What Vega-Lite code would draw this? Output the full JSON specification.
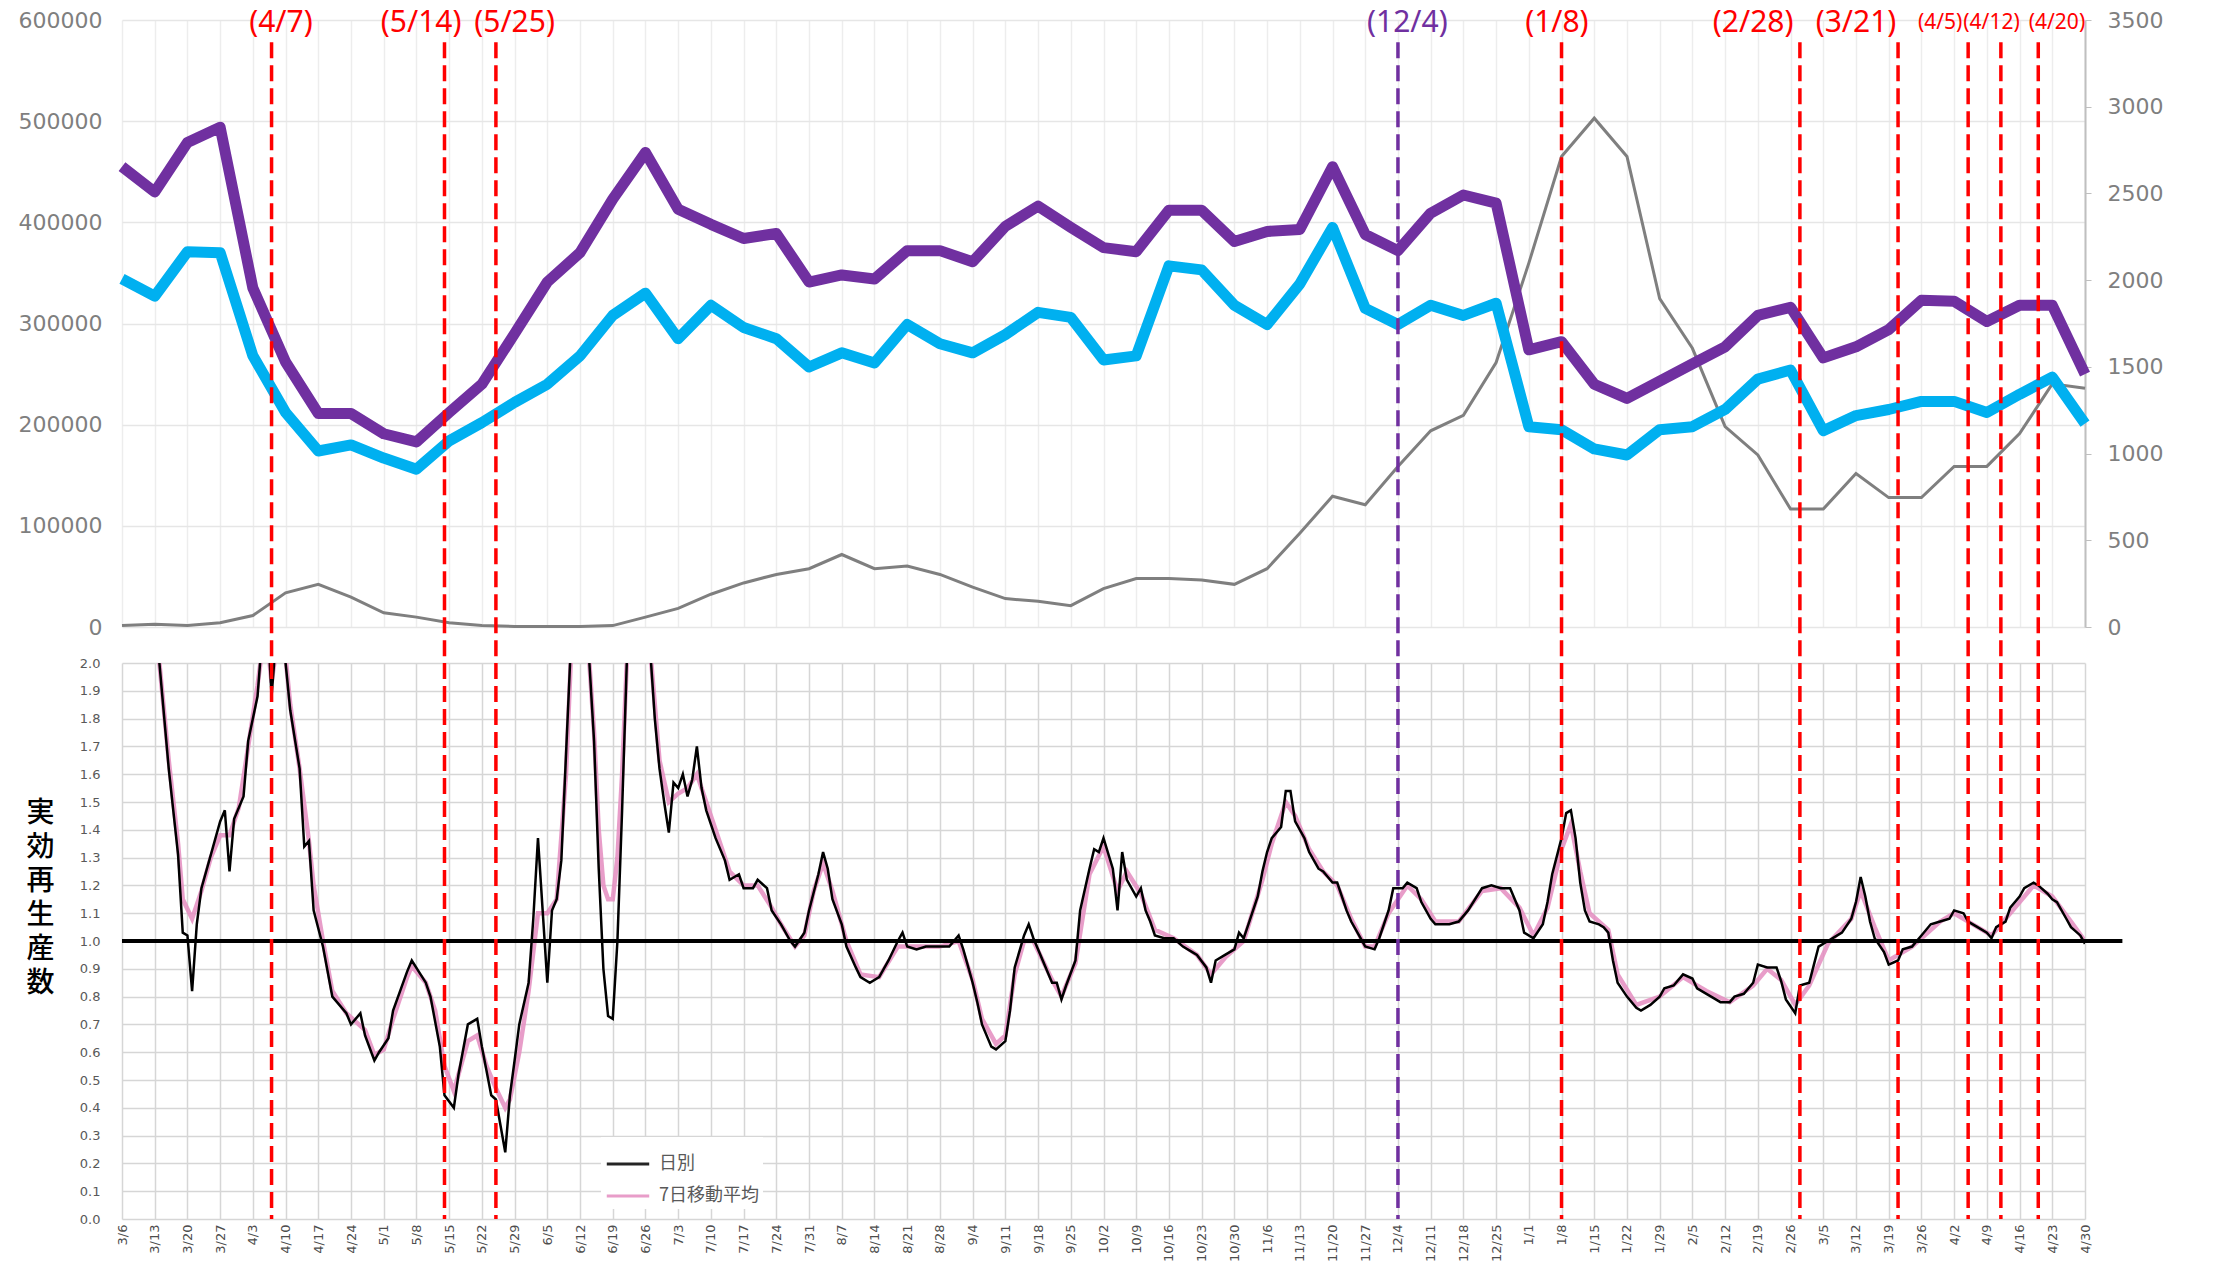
{
"$schema": "https://vega.github.io/schema/vega-lite/v6.json",
"background": "white",
"padding": {"left": 18, "top": 8, "right": 0, "bottom": 0},
"spacing": 36,
"bounds": "flush",
"config": {"view": {"stroke": null}, "axis": {"labelFont": "DejaVu Sans"}, "legend": {"labelFont": "Noto Sans CJK JP"}},
"resolve": {"scale": {"color": "independent", "stroke": "independent"}, "legend": {"color": "independent", "stroke": "independent"}},
"datasets": {
"weekly": [
{"date":"2020-03-06","flowA":455000,"flowB":344000,"cases":8},
{"date":"2020-03-13","flowA":430000,"flowB":327000,"cases":16},
{"date":"2020-03-20","flowA":479000,"flowB":371000,"cases":8},
{"date":"2020-03-27","flowA":494000,"flowB":370000,"cases":25},
{"date":"2020-04-03","flowA":335000,"flowB":268000,"cases":66},
{"date":"2020-04-10","flowA":262000,"flowB":212000,"cases":197},
{"date":"2020-04-17","flowA":211000,"flowB":174000,"cases":246},
{"date":"2020-04-24","flowA":211000,"flowB":180000,"cases":172},
{"date":"2020-05-01","flowA":191000,"flowB":167000,"cases":82},
{"date":"2020-05-08","flowA":183000,"flowB":156000,"cases":57},
{"date":"2020-05-15","flowA":212000,"flowB":184000,"cases":25},
{"date":"2020-05-22","flowA":240000,"flowB":202000,"cases":8},
{"date":"2020-05-29","flowA":290000,"flowB":222000,"cases":3},
{"date":"2020-06-05","flowA":341000,"flowB":240000,"cases":3},
{"date":"2020-06-12","flowA":370000,"flowB":268000,"cases":3},
{"date":"2020-06-19","flowA":423000,"flowB":308000,"cases":8},
{"date":"2020-06-26","flowA":469000,"flowB":330000,"cases":57},
{"date":"2020-07-03","flowA":413000,"flowB":285000,"cases":107},
{"date":"2020-07-10","flowA":398000,"flowB":318000,"cases":189},
{"date":"2020-07-17","flowA":384000,"flowB":296000,"cases":254},
{"date":"2020-07-24","flowA":389000,"flowB":285000,"cases":303},
{"date":"2020-07-31","flowA":341000,"flowB":257000,"cases":336},
{"date":"2020-08-07","flowA":348000,"flowB":271000,"cases":418},
{"date":"2020-08-14","flowA":344000,"flowB":261000,"cases":336},
{"date":"2020-08-21","flowA":372000,"flowB":299000,"cases":352},
{"date":"2020-08-28","flowA":372000,"flowB":280000,"cases":303},
{"date":"2020-09-04","flowA":361000,"flowB":271000,"cases":230},
{"date":"2020-09-11","flowA":396000,"flowB":289000,"cases":164},
{"date":"2020-09-18","flowA":416000,"flowB":311000,"cases":148},
{"date":"2020-09-25","flowA":395000,"flowB":306000,"cases":123},
{"date":"2020-10-02","flowA":375000,"flowB":264000,"cases":221},
{"date":"2020-10-09","flowA":371000,"flowB":268000,"cases":279},
{"date":"2020-10-16","flowA":412000,"flowB":357000,"cases":279},
{"date":"2020-10-23","flowA":412000,"flowB":353000,"cases":271},
{"date":"2020-10-30","flowA":381000,"flowB":318000,"cases":246},
{"date":"2020-11-06","flowA":391000,"flowB":299000,"cases":336},
{"date":"2020-11-13","flowA":393000,"flowB":339000,"cases":541},
{"date":"2020-11-20","flowA":455000,"flowB":395000,"cases":754},
{"date":"2020-11-27","flowA":388000,"flowB":315000,"cases":705},
{"date":"2020-12-04","flowA":372000,"flowB":299000,"cases":926},
{"date":"2020-12-11","flowA":409000,"flowB":318000,"cases":1131},
{"date":"2020-12-18","flowA":427000,"flowB":308000,"cases":1221},
{"date":"2020-12-25","flowA":419000,"flowB":320000,"cases":1525},
{"date":"2021-01-01","flowA":274000,"flowB":198000,"cases":2098},
{"date":"2021-01-08","flowA":282000,"flowB":195000,"cases":2713},
{"date":"2021-01-15","flowA":240000,"flowB":176000,"cases":2934},
{"date":"2021-01-22","flowA":226000,"flowB":170000,"cases":2713},
{"date":"2021-01-29","flowA":243000,"flowB":195000,"cases":1894},
{"date":"2021-02-05","flowA":260000,"flowB":198000,"cases":1607},
{"date":"2021-02-12","flowA":277000,"flowB":215000,"cases":1156},
{"date":"2021-02-19","flowA":308000,"flowB":245000,"cases":992},
{"date":"2021-02-26","flowA":316000,"flowB":254000,"cases":680},
{"date":"2021-03-05","flowA":266000,"flowB":194000,"cases":680},
{"date":"2021-03-12","flowA":277000,"flowB":209000,"cases":885},
{"date":"2021-03-19","flowA":294000,"flowB":215000,"cases":746},
{"date":"2021-03-26","flowA":323000,"flowB":223000,"cases":746},
{"date":"2021-04-02","flowA":322000,"flowB":223000,"cases":926},
{"date":"2021-04-09","flowA":302000,"flowB":212000,"cases":926},
{"date":"2021-04-16","flowA":318000,"flowB":230000,"cases":1115},
{"date":"2021-04-23","flowA":318000,"flowB":247000,"cases":1402},
{"date":"2021-04-30","flowA":250000,"flowB":201000,"cases":1377}
],
"events": [
{"date":"2020-04-07","kind":"A"},
{"date":"2020-05-14","kind":"A"},
{"date":"2020-05-25","kind":"A"},
{"date":"2020-12-04","kind":"B"},
{"date":"2021-01-08","kind":"A"},
{"date":"2021-02-28","kind":"A"},
{"date":"2021-03-21","kind":"A"},
{"date":"2021-04-05","kind":"A"},
{"date":"2021-04-12","kind":"A"},
{"date":"2021-04-20","kind":"A"}
],
"daily": [
{"date":"2020-03-12","R":2.4},{"date":"2020-03-13","R":2.2},{"date":"2020-03-14","R":2.0},{"date":"2020-03-16","R":1.62},{"date":"2020-03-18","R":1.31},{"date":"2020-03-19","R":1.03},{"date":"2020-03-20","R":1.02},{"date":"2020-03-21","R":0.82},{"date":"2020-03-22","R":1.06},{"date":"2020-03-23","R":1.19},{"date":"2020-03-25","R":1.31},{"date":"2020-03-27","R":1.43},{"date":"2020-03-28","R":1.47},{"date":"2020-03-29","R":1.25},{"date":"2020-03-30","R":1.44},
{"date":"2020-04-01","R":1.52},{"date":"2020-04-02","R":1.72},{"date":"2020-04-04","R":1.88},{"date":"2020-04-05","R":2.1},{"date":"2020-04-06","R":2.2},{"date":"2020-04-07","R":1.88},{"date":"2020-04-08","R":2.1},{"date":"2020-04-09","R":2.05},{"date":"2020-04-10","R":2.0},{"date":"2020-04-11","R":1.83},{"date":"2020-04-13","R":1.62},{"date":"2020-04-14","R":1.34},{"date":"2020-04-15","R":1.36},{"date":"2020-04-16","R":1.11},{"date":"2020-04-18","R":0.98},{"date":"2020-04-20","R":0.8},{"date":"2020-04-23","R":0.74},{"date":"2020-04-24","R":0.7},{"date":"2020-04-26","R":0.74},{"date":"2020-04-27","R":0.66},{"date":"2020-04-29","R":0.57},{"date":"2020-04-30","R":0.6},
{"date":"2020-05-02","R":0.65},{"date":"2020-05-03","R":0.75},{"date":"2020-05-06","R":0.89},{"date":"2020-05-07","R":0.93},{"date":"2020-05-10","R":0.85},{"date":"2020-05-11","R":0.8},{"date":"2020-05-13","R":0.62},{"date":"2020-05-14","R":0.445},{"date":"2020-05-16","R":0.4},{"date":"2020-05-17","R":0.52},{"date":"2020-05-19","R":0.7},{"date":"2020-05-21","R":0.72},{"date":"2020-05-22","R":0.62},{"date":"2020-05-24","R":0.445},{"date":"2020-05-25","R":0.43},{"date":"2020-05-27","R":0.24},{"date":"2020-05-28","R":0.445},{"date":"2020-05-29","R":0.57},{"date":"2020-05-30","R":0.7},
{"date":"2020-06-01","R":0.85},{"date":"2020-06-02","R":1.08},{"date":"2020-06-03","R":1.37},{"date":"2020-06-04","R":1.11},{"date":"2020-06-05","R":0.85},{"date":"2020-06-06","R":1.11},{"date":"2020-06-07","R":1.15},{"date":"2020-06-08","R":1.29},{"date":"2020-06-09","R":1.67},{"date":"2020-06-10","R":2.05},{"date":"2020-06-11","R":2.5},{"date":"2020-06-12","R":2.7},{"date":"2020-06-13","R":2.4},{"date":"2020-06-14","R":2.0},{"date":"2020-06-15","R":1.72},{"date":"2020-06-16","R":1.26},{"date":"2020-06-17","R":0.9},{"date":"2020-06-18","R":0.73},{"date":"2020-06-19","R":0.72},{"date":"2020-06-20","R":1.0},{"date":"2020-06-21","R":1.47},{"date":"2020-06-22","R":2.0},{"date":"2020-06-23","R":2.6},{"date":"2020-06-24","R":3.0},{"date":"2020-06-25","R":2.9},{"date":"2020-06-26","R":2.5},{"date":"2020-06-27","R":2.05},{"date":"2020-06-28","R":1.8},{"date":"2020-06-29","R":1.62},{"date":"2020-06-30","R":1.5},
{"date":"2020-07-01","R":1.39},{"date":"2020-07-02","R":1.57},{"date":"2020-07-03","R":1.55},{"date":"2020-07-04","R":1.6},{"date":"2020-07-05","R":1.52},{"date":"2020-07-06","R":1.58},{"date":"2020-07-07","R":1.7},{"date":"2020-07-08","R":1.55},{"date":"2020-07-09","R":1.47},{"date":"2020-07-11","R":1.37},{"date":"2020-07-13","R":1.29},{"date":"2020-07-14","R":1.22},{"date":"2020-07-16","R":1.24},{"date":"2020-07-17","R":1.19},{"date":"2020-07-19","R":1.19},{"date":"2020-07-20","R":1.22},{"date":"2020-07-22","R":1.19},{"date":"2020-07-23","R":1.11},{"date":"2020-07-25","R":1.06},{"date":"2020-07-27","R":1.0},{"date":"2020-07-28","R":0.98},{"date":"2020-07-30","R":1.03},{"date":"2020-07-31","R":1.11},
{"date":"2020-08-02","R":1.24},{"date":"2020-08-03","R":1.32},{"date":"2020-08-04","R":1.26},{"date":"2020-08-05","R":1.15},{"date":"2020-08-07","R":1.06},{"date":"2020-08-08","R":0.98},{"date":"2020-08-10","R":0.905},{"date":"2020-08-11","R":0.87},{"date":"2020-08-13","R":0.85},{"date":"2020-08-15","R":0.87},{"date":"2020-08-17","R":0.93},{"date":"2020-08-19","R":1.0},{"date":"2020-08-20","R":1.03},{"date":"2020-08-21","R":0.98},{"date":"2020-08-23","R":0.97},{"date":"2020-08-25","R":0.98},{"date":"2020-08-28","R":0.98},{"date":"2020-08-30","R":0.98},
{"date":"2020-09-01","R":1.02},{"date":"2020-09-02","R":0.97},{"date":"2020-09-04","R":0.85},{"date":"2020-09-05","R":0.78},{"date":"2020-09-06","R":0.7},{"date":"2020-09-08","R":0.62},{"date":"2020-09-09","R":0.61},{"date":"2020-09-11","R":0.64},{"date":"2020-09-12","R":0.75},{"date":"2020-09-13","R":0.905},{"date":"2020-09-15","R":1.02},{"date":"2020-09-16","R":1.06},{"date":"2020-09-17","R":1.01},{"date":"2020-09-19","R":0.93},{"date":"2020-09-21","R":0.85},{"date":"2020-09-22","R":0.85},{"date":"2020-09-23","R":0.79},{"date":"2020-09-24","R":0.84},{"date":"2020-09-26","R":0.93},{"date":"2020-09-27","R":1.11},{"date":"2020-09-29","R":1.26},{"date":"2020-09-30","R":1.33},
{"date":"2020-10-01","R":1.32},{"date":"2020-10-02","R":1.37},{"date":"2020-10-04","R":1.26},{"date":"2020-10-05","R":1.11},{"date":"2020-10-06","R":1.32},{"date":"2020-10-07","R":1.22},{"date":"2020-10-09","R":1.16},{"date":"2020-10-10","R":1.19},{"date":"2020-10-11","R":1.11},{"date":"2020-10-12","R":1.07},{"date":"2020-10-13","R":1.02},{"date":"2020-10-15","R":1.01},{"date":"2020-10-17","R":1.01},{"date":"2020-10-19","R":0.98},{"date":"2020-10-21","R":0.96},{"date":"2020-10-22","R":0.95},{"date":"2020-10-24","R":0.905},{"date":"2020-10-25","R":0.85},{"date":"2020-10-26","R":0.93},{"date":"2020-10-28","R":0.95},{"date":"2020-10-30","R":0.97},{"date":"2020-10-31","R":1.03},
{"date":"2020-11-01","R":1.01},{"date":"2020-11-02","R":1.06},{"date":"2020-11-04","R":1.16},{"date":"2020-11-05","R":1.25},{"date":"2020-11-06","R":1.32},{"date":"2020-11-07","R":1.37},{"date":"2020-11-09","R":1.41},{"date":"2020-11-10","R":1.54},{"date":"2020-11-11","R":1.54},{"date":"2020-11-12","R":1.43},{"date":"2020-11-14","R":1.37},{"date":"2020-11-15","R":1.32},{"date":"2020-11-17","R":1.26},{"date":"2020-11-18","R":1.25},{"date":"2020-11-20","R":1.21},{"date":"2020-11-21","R":1.21},{"date":"2020-11-23","R":1.11},{"date":"2020-11-24","R":1.07},{"date":"2020-11-26","R":1.01},{"date":"2020-11-27","R":0.98},{"date":"2020-11-29","R":0.97},{"date":"2020-11-30","R":1.01},
{"date":"2020-12-02","R":1.11},{"date":"2020-12-03","R":1.19},{"date":"2020-12-05","R":1.19},{"date":"2020-12-06","R":1.21},{"date":"2020-12-08","R":1.19},{"date":"2020-12-09","R":1.14},{"date":"2020-12-11","R":1.08},{"date":"2020-12-12","R":1.06},{"date":"2020-12-15","R":1.06},{"date":"2020-12-17","R":1.07},{"date":"2020-12-19","R":1.11},{"date":"2020-12-22","R":1.19},{"date":"2020-12-24","R":1.2},{"date":"2020-12-26","R":1.19},{"date":"2020-12-28","R":1.19},{"date":"2020-12-30","R":1.11},{"date":"2020-12-31","R":1.03},
{"date":"2021-01-02","R":1.01},{"date":"2021-01-04","R":1.06},{"date":"2021-01-05","R":1.14},{"date":"2021-01-06","R":1.24},{"date":"2021-01-08","R":1.37},{"date":"2021-01-09","R":1.46},{"date":"2021-01-10","R":1.47},{"date":"2021-01-11","R":1.37},{"date":"2021-01-12","R":1.21},{"date":"2021-01-13","R":1.11},{"date":"2021-01-14","R":1.07},{"date":"2021-01-16","R":1.06},{"date":"2021-01-17","R":1.05},{"date":"2021-01-18","R":1.03},{"date":"2021-01-19","R":0.93},{"date":"2021-01-20","R":0.85},{"date":"2021-01-22","R":0.8},{"date":"2021-01-24","R":0.76},{"date":"2021-01-25","R":0.75},{"date":"2021-01-27","R":0.77},{"date":"2021-01-29","R":0.8},{"date":"2021-01-30","R":0.83},
{"date":"2021-02-01","R":0.84},{"date":"2021-02-03","R":0.88},{"date":"2021-02-05","R":0.865},{"date":"2021-02-06","R":0.83},{"date":"2021-02-08","R":0.81},{"date":"2021-02-10","R":0.79},{"date":"2021-02-11","R":0.78},{"date":"2021-02-13","R":0.78},{"date":"2021-02-14","R":0.8},{"date":"2021-02-16","R":0.81},{"date":"2021-02-18","R":0.85},{"date":"2021-02-19","R":0.915},{"date":"2021-02-21","R":0.905},{"date":"2021-02-23","R":0.905},{"date":"2021-02-24","R":0.855},{"date":"2021-02-25","R":0.79},{"date":"2021-02-27","R":0.74},{"date":"2021-02-28","R":0.84},
{"date":"2021-03-02","R":0.85},{"date":"2021-03-03","R":0.915},{"date":"2021-03-04","R":0.98},{"date":"2021-03-06","R":1.0},{"date":"2021-03-08","R":1.02},{"date":"2021-03-09","R":1.03},{"date":"2021-03-11","R":1.08},{"date":"2021-03-12","R":1.14},{"date":"2021-03-13","R":1.23},{"date":"2021-03-14","R":1.16},{"date":"2021-03-15","R":1.07},{"date":"2021-03-16","R":1.01},{"date":"2021-03-18","R":0.96},{"date":"2021-03-19","R":0.915},{"date":"2021-03-21","R":0.93},{"date":"2021-03-22","R":0.97},{"date":"2021-03-24","R":0.98},{"date":"2021-03-26","R":1.02},{"date":"2021-03-28","R":1.06},{"date":"2021-03-30","R":1.07},
{"date":"2021-04-01","R":1.08},{"date":"2021-04-02","R":1.11},{"date":"2021-04-04","R":1.1},{"date":"2021-04-05","R":1.07},{"date":"2021-04-06","R":1.06},{"date":"2021-04-07","R":1.05},{"date":"2021-04-09","R":1.03},{"date":"2021-04-10","R":1.01},{"date":"2021-04-11","R":1.05},{"date":"2021-04-13","R":1.07},{"date":"2021-04-14","R":1.12},{"date":"2021-04-16","R":1.16},{"date":"2021-04-17","R":1.19},{"date":"2021-04-19","R":1.21},{"date":"2021-04-20","R":1.2},{"date":"2021-04-22","R":1.17},{"date":"2021-04-23","R":1.15},{"date":"2021-04-24","R":1.14},{"date":"2021-04-26","R":1.08},{"date":"2021-04-27","R":1.05},{"date":"2021-04-29","R":1.02},{"date":"2021-04-30","R":0.99}
],
"avg7": [
{"date":"2020-03-12","R":2.4},{"date":"2020-03-14","R":2.0},{"date":"2020-03-16","R":1.65},{"date":"2020-03-18","R":1.35},{"date":"2020-03-19","R":1.15},{"date":"2020-03-21","R":1.08},{"date":"2020-03-23","R":1.18},{"date":"2020-03-25","R":1.3},{"date":"2020-03-27","R":1.38},{"date":"2020-03-29","R":1.38},{"date":"2020-03-31","R":1.48},
{"date":"2020-04-02","R":1.7},{"date":"2020-04-04","R":1.92},{"date":"2020-04-05","R":2.05},{"date":"2020-04-06","R":2.1},{"date":"2020-04-07","R":1.93},{"date":"2020-04-08","R":2.05},{"date":"2020-04-10","R":2.02},{"date":"2020-04-11","R":1.85},{"date":"2020-04-13","R":1.62},{"date":"2020-04-15","R":1.36},{"date":"2020-04-16","R":1.2},{"date":"2020-04-18","R":1.0},{"date":"2020-04-20","R":0.82},{"date":"2020-04-23","R":0.74},{"date":"2020-04-25","R":0.71},{"date":"2020-04-27","R":0.68},{"date":"2020-04-29","R":0.59},
{"date":"2020-05-01","R":0.61},{"date":"2020-05-03","R":0.72},{"date":"2020-05-06","R":0.87},{"date":"2020-05-07","R":0.91},{"date":"2020-05-10","R":0.85},{"date":"2020-05-12","R":0.75},{"date":"2020-05-14","R":0.55},{"date":"2020-05-16","R":0.46},{"date":"2020-05-17","R":0.52},{"date":"2020-05-19","R":0.64},{"date":"2020-05-21","R":0.66},{"date":"2020-05-23","R":0.55},{"date":"2020-05-25","R":0.47},{"date":"2020-05-27","R":0.4},{"date":"2020-05-28","R":0.43},{"date":"2020-05-30","R":0.6},
{"date":"2020-06-01","R":0.82},{"date":"2020-06-03","R":1.1},{"date":"2020-06-05","R":1.1},{"date":"2020-06-07","R":1.15},{"date":"2020-06-09","R":1.6},{"date":"2020-06-10","R":2.0},{"date":"2020-06-11","R":2.4},{"date":"2020-06-13","R":2.4},{"date":"2020-06-14","R":2.0},{"date":"2020-06-15","R":1.75},{"date":"2020-06-16","R":1.4},{"date":"2020-06-17","R":1.2},{"date":"2020-06-18","R":1.15},{"date":"2020-06-19","R":1.15},{"date":"2020-06-20","R":1.3},{"date":"2020-06-21","R":1.6},{"date":"2020-06-22","R":2.0},{"date":"2020-06-24","R":2.8},{"date":"2020-06-26","R":2.5},{"date":"2020-06-27","R":2.05},{"date":"2020-06-29","R":1.65},
{"date":"2020-07-01","R":1.5},{"date":"2020-07-03","R":1.53},{"date":"2020-07-05","R":1.55},{"date":"2020-07-07","R":1.6},{"date":"2020-07-09","R":1.5},{"date":"2020-07-11","R":1.4},{"date":"2020-07-14","R":1.25},{"date":"2020-07-17","R":1.2},{"date":"2020-07-20","R":1.2},{"date":"2020-07-23","R":1.12},{"date":"2020-07-25","R":1.06},{"date":"2020-07-28","R":0.98},{"date":"2020-07-30","R":1.02},
{"date":"2020-08-01","R":1.18},{"date":"2020-08-03","R":1.28},{"date":"2020-08-05","R":1.18},{"date":"2020-08-08","R":1.0},{"date":"2020-08-11","R":0.88},{"date":"2020-08-15","R":0.87},{"date":"2020-08-19","R":0.98},{"date":"2020-08-23","R":0.98},{"date":"2020-08-28","R":0.98},
{"date":"2020-09-01","R":1.0},{"date":"2020-09-04","R":0.86},{"date":"2020-09-06","R":0.72},{"date":"2020-09-09","R":0.63},{"date":"2020-09-11","R":0.66},{"date":"2020-09-13","R":0.88},{"date":"2020-09-15","R":1.0},{"date":"2020-09-17","R":1.0},{"date":"2020-09-21","R":0.86},{"date":"2020-09-23","R":0.8},{"date":"2020-09-26","R":0.92},{"date":"2020-09-29","R":1.24},
{"date":"2020-10-02","R":1.34},{"date":"2020-10-05","R":1.18},{"date":"2020-10-07","R":1.25},{"date":"2020-10-10","R":1.17},{"date":"2020-10-13","R":1.04},{"date":"2020-10-17","R":1.01},{"date":"2020-10-22","R":0.95},{"date":"2020-10-25","R":0.88},{"date":"2020-10-28","R":0.94},
{"date":"2020-11-01","R":1.0},{"date":"2020-11-05","R":1.22},{"date":"2020-11-07","R":1.35},{"date":"2020-11-10","R":1.5},{"date":"2020-11-12","R":1.45},{"date":"2020-11-15","R":1.33},{"date":"2020-11-18","R":1.25},{"date":"2020-11-21","R":1.2},{"date":"2020-11-24","R":1.08},{"date":"2020-11-27","R":0.98},{"date":"2020-11-29","R":0.98},
{"date":"2020-12-02","R":1.1},{"date":"2020-12-06","R":1.2},{"date":"2020-12-09","R":1.15},{"date":"2020-12-12","R":1.07},{"date":"2020-12-17","R":1.07},{"date":"2020-12-22","R":1.18},{"date":"2020-12-26","R":1.19},{"date":"2020-12-30","R":1.12},
{"date":"2021-01-02","R":1.02},{"date":"2021-01-05","R":1.12},{"date":"2021-01-08","R":1.33},{"date":"2021-01-10","R":1.42},{"date":"2021-01-12","R":1.25},{"date":"2021-01-14","R":1.1},{"date":"2021-01-18","R":1.04},{"date":"2021-01-20","R":0.88},{"date":"2021-01-24","R":0.77},{"date":"2021-01-29","R":0.8},
{"date":"2021-02-03","R":0.87},{"date":"2021-02-08","R":0.82},{"date":"2021-02-13","R":0.78},{"date":"2021-02-18","R":0.84},{"date":"2021-02-21","R":0.9},{"date":"2021-02-24","R":0.86},{"date":"2021-02-27","R":0.77},
{"date":"2021-03-02","R":0.84},{"date":"2021-03-06","R":0.99},{"date":"2021-03-11","R":1.08},{"date":"2021-03-13","R":1.18},{"date":"2021-03-16","R":1.05},{"date":"2021-03-19","R":0.93},{"date":"2021-03-24","R":0.98},{"date":"2021-03-30","R":1.07},
{"date":"2021-04-02","R":1.1},{"date":"2021-04-06","R":1.06},{"date":"2021-04-10","R":1.02},{"date":"2021-04-14","R":1.1},{"date":"2021-04-19","R":1.2},{"date":"2021-04-23","R":1.16},{"date":"2021-04-27","R":1.07},{"date":"2021-04-30","R":1.0}
]
},
"vconcat": [
{
"width": 1963,
"height": 607,
"resolve": {"scale": {"y": "independent"}, "axis": {"y": "independent"}},
"layer": [
{
"data": {"name": "weekly"},
"mark": {"type": "line", "color": "#7F7F7F", "strokeWidth": 3},
"encoding": {
"x": {"field": "date", "type": "temporal", "scale": {"type": "utc", "domain": [{"year":2020,"month":3,"date":6,"utc":true},{"year":2021,"month":4,"date":30,"utc":true}]}},
"y": {"field": "cases", "type": "quantitative", "scale": {"domain": [0, 3500]},
"axis": {"orient": "right", "values": [0,500,1000,1500,2000,2500,3000,3500], "tickCount": 100, "format": "d", "grid": false, "domain": true, "domainColor": "#BFBFBF", "domainWidth": 2, "ticks": true, "tickColor": "#BFBFBF", "tickSize": 6, "labelPadding": 16, "labelFontSize": 22, "labelColor": "#7F7F7F", "title": null}}
}
},
{
"layer": [
{
"data": {"name": "weekly"},
"mark": {"type": "line", "color": "#7030A0", "strokeWidth": 11, "strokeJoin": "round"},
"encoding": {
"x": {"field": "date", "type": "temporal", "scale": {"type": "utc", "domain": [{"year":2020,"month":3,"date":6,"utc":true},{"year":2021,"month":4,"date":30,"utc":true}]},
"axis": {"values": [{"year":2020,"month":3,"date":6,"utc":true},{"year":2020,"month":3,"date":13,"utc":true},{"year":2020,"month":3,"date":20,"utc":true},{"year":2020,"month":3,"date":27,"utc":true},{"year":2020,"month":4,"date":3,"utc":true},{"year":2020,"month":4,"date":10,"utc":true},{"year":2020,"month":4,"date":17,"utc":true},{"year":2020,"month":4,"date":24,"utc":true},{"year":2020,"month":5,"date":1,"utc":true},{"year":2020,"month":5,"date":8,"utc":true},{"year":2020,"month":5,"date":15,"utc":true},{"year":2020,"month":5,"date":22,"utc":true},{"year":2020,"month":5,"date":29,"utc":true},{"year":2020,"month":6,"date":5,"utc":true},{"year":2020,"month":6,"date":12,"utc":true},{"year":2020,"month":6,"date":19,"utc":true},{"year":2020,"month":6,"date":26,"utc":true},{"year":2020,"month":7,"date":3,"utc":true},{"year":2020,"month":7,"date":10,"utc":true},{"year":2020,"month":7,"date":17,"utc":true},{"year":2020,"month":7,"date":24,"utc":true},{"year":2020,"month":7,"date":31,"utc":true},{"year":2020,"month":8,"date":7,"utc":true},{"year":2020,"month":8,"date":14,"utc":true},{"year":2020,"month":8,"date":21,"utc":true},{"year":2020,"month":8,"date":28,"utc":true},{"year":2020,"month":9,"date":4,"utc":true},{"year":2020,"month":9,"date":11,"utc":true},{"year":2020,"month":9,"date":18,"utc":true},{"year":2020,"month":9,"date":25,"utc":true},{"year":2020,"month":10,"date":2,"utc":true},{"year":2020,"month":10,"date":9,"utc":true},{"year":2020,"month":10,"date":16,"utc":true},{"year":2020,"month":10,"date":23,"utc":true},{"year":2020,"month":10,"date":30,"utc":true},{"year":2020,"month":11,"date":6,"utc":true},{"year":2020,"month":11,"date":13,"utc":true},{"year":2020,"month":11,"date":20,"utc":true},{"year":2020,"month":11,"date":27,"utc":true},{"year":2020,"month":12,"date":4,"utc":true},{"year":2020,"month":12,"date":11,"utc":true},{"year":2020,"month":12,"date":18,"utc":true},{"year":2020,"month":12,"date":25,"utc":true},{"year":2021,"month":1,"date":1,"utc":true},{"year":2021,"month":1,"date":8,"utc":true},{"year":2021,"month":1,"date":15,"utc":true},{"year":2021,"month":1,"date":22,"utc":true},{"year":2021,"month":1,"date":29,"utc":true},{"year":2021,"month":2,"date":5,"utc":true},{"year":2021,"month":2,"date":12,"utc":true},{"year":2021,"month":2,"date":19,"utc":true},{"year":2021,"month":2,"date":26,"utc":true},{"year":2021,"month":3,"date":5,"utc":true},{"year":2021,"month":3,"date":12,"utc":true},{"year":2021,"month":3,"date":19,"utc":true},{"year":2021,"month":3,"date":26,"utc":true},{"year":2021,"month":4,"date":2,"utc":true},{"year":2021,"month":4,"date":9,"utc":true},{"year":2021,"month":4,"date":16,"utc":true},{"year":2021,"month":4,"date":23,"utc":true},{"year":2021,"month":4,"date":30,"utc":true}],
"tickCount": 200, "grid": true, "gridColor": "#EDEDED", "gridWidth": 1.5, "labels": false, "ticks": false, "domain": false, "title": null}},
"y": {"field": "flowA", "type": "quantitative", "scale": {"domain": [0, 600000]},
"axis": {"orient": "left", "values": [0,100000,200000,300000,400000,500000,600000], "tickCount": 100, "format": "d", "grid": true, "gridColor": "#E6E6E6", "gridWidth": 1.5, "ticks": false, "domain": false, "labelPadding": 20, "labelFontSize": 22, "labelColor": "#7F7F7F", "title": null}}
}
},
{
"data": {"name": "weekly"},
"mark": {"type": "line", "color": "#00B0F0", "strokeWidth": 11, "strokeJoin": "round"},
"encoding": {
"x": {"field": "date", "type": "temporal", "scale": {"type": "utc", "domain": [{"year":2020,"month":3,"date":6,"utc":true},{"year":2021,"month":4,"date":30,"utc":true}]}},
"y": {"field": "flowB", "type": "quantitative", "scale": {"domain": [0, 600000]}}
}
},
{
"data": {"name": "events"},
"mark": {"type": "rule", "strokeWidth": 3.5, "strokeDash": [16, 7]},
"encoding": {
"x": {"field": "date", "type": "temporal", "scale": {"type": "utc", "domain": [{"year":2020,"month":3,"date":6,"utc":true},{"year":2021,"month":4,"date":30,"utc":true}]}},
"y": {"datum": 578000, "type": "quantitative", "scale": {"domain": [0, 600000]}},
"y2": {"datum": -36000},
"color": {"field": "kind", "type": "nominal", "scale": {"domain": ["A", "B"], "range": ["#FF0000", "#7030A0"]}, "legend": null}
}
},
{
"data": {"values": [
{"date":"2020-04-09","label":"(4/7)","kind":"A"},
{"date":"2020-05-09","label":"(5/14)","kind":"A"},
{"date":"2020-05-29","label":"(5/25)","kind":"A"},
{"date":"2020-12-06","label":"(12/4)","kind":"B"},
{"date":"2021-01-07","label":"(1/8)","kind":"A"},
{"date":"2021-02-18","label":"(2/28)","kind":"A"},
{"date":"2021-03-12","label":"(3/21)","kind":"A"}
]},
"mark": {"type": "text", "fontSize": 30, "font": "Noto Sans", "align": "center", "baseline": "middle", "dy": 3},
"encoding": {
"x": {"field": "date", "type": "temporal", "scale": {"type": "utc", "domain": [{"year":2020,"month":3,"date":6,"utc":true},{"year":2021,"month":4,"date":30,"utc":true}]}},
"y": {"datum": 600000, "type": "quantitative", "scale": {"domain": [0, 600000]}},
"text": {"field": "label"},
"color": {"field": "kind", "type": "nominal", "scale": {"domain": ["A", "B"], "range": ["#FF0000", "#7030A0"]}, "legend": null}
}
},
{
"data": {"values": [
{"date":"2021-03-30","label":"(4/5)","kind":"A"},
{"date":"2021-04-10","label":"(4/12)","kind":"A"},
{"date":"2021-04-24","label":"(4/20)","kind":"A"}
]},
"mark": {"type": "text", "fontSize": 21, "font": "Noto Sans", "align": "center", "baseline": "middle", "dy": 3},
"encoding": {
"x": {"field": "date", "type": "temporal", "scale": {"type": "utc", "domain": [{"year":2020,"month":3,"date":6,"utc":true},{"year":2021,"month":4,"date":30,"utc":true}]}},
"y": {"datum": 600000, "type": "quantitative", "scale": {"domain": [0, 600000]}},
"text": {"field": "label"},
"color": {"field": "kind", "type": "nominal", "scale": {"domain": ["A", "B"], "range": ["#FF0000", "#7030A0"]}, "legend": null}
}
}
]
}
]
},
{
"width": 1963,
"height": 556,
"layer": [
{
"data": {"name": "avg7"},
"mark": {"type": "line", "strokeWidth": 4.5, "clip": true, "opacity": 0.85},
"encoding": {
"x": {"field": "date", "type": "temporal", "scale": {"type": "utc", "domain": [{"year":2020,"month":3,"date":6,"utc":true},{"year":2021,"month":4,"date":30,"utc":true}]},
"axis": {"values": [{"year":2020,"month":3,"date":6,"utc":true},{"year":2020,"month":3,"date":13,"utc":true},{"year":2020,"month":3,"date":20,"utc":true},{"year":2020,"month":3,"date":27,"utc":true},{"year":2020,"month":4,"date":3,"utc":true},{"year":2020,"month":4,"date":10,"utc":true},{"year":2020,"month":4,"date":17,"utc":true},{"year":2020,"month":4,"date":24,"utc":true},{"year":2020,"month":5,"date":1,"utc":true},{"year":2020,"month":5,"date":8,"utc":true},{"year":2020,"month":5,"date":15,"utc":true},{"year":2020,"month":5,"date":22,"utc":true},{"year":2020,"month":5,"date":29,"utc":true},{"year":2020,"month":6,"date":5,"utc":true},{"year":2020,"month":6,"date":12,"utc":true},{"year":2020,"month":6,"date":19,"utc":true},{"year":2020,"month":6,"date":26,"utc":true},{"year":2020,"month":7,"date":3,"utc":true},{"year":2020,"month":7,"date":10,"utc":true},{"year":2020,"month":7,"date":17,"utc":true},{"year":2020,"month":7,"date":24,"utc":true},{"year":2020,"month":7,"date":31,"utc":true},{"year":2020,"month":8,"date":7,"utc":true},{"year":2020,"month":8,"date":14,"utc":true},{"year":2020,"month":8,"date":21,"utc":true},{"year":2020,"month":8,"date":28,"utc":true},{"year":2020,"month":9,"date":4,"utc":true},{"year":2020,"month":9,"date":11,"utc":true},{"year":2020,"month":9,"date":18,"utc":true},{"year":2020,"month":9,"date":25,"utc":true},{"year":2020,"month":10,"date":2,"utc":true},{"year":2020,"month":10,"date":9,"utc":true},{"year":2020,"month":10,"date":16,"utc":true},{"year":2020,"month":10,"date":23,"utc":true},{"year":2020,"month":10,"date":30,"utc":true},{"year":2020,"month":11,"date":6,"utc":true},{"year":2020,"month":11,"date":13,"utc":true},{"year":2020,"month":11,"date":20,"utc":true},{"year":2020,"month":11,"date":27,"utc":true},{"year":2020,"month":12,"date":4,"utc":true},{"year":2020,"month":12,"date":11,"utc":true},{"year":2020,"month":12,"date":18,"utc":true},{"year":2020,"month":12,"date":25,"utc":true},{"year":2021,"month":1,"date":1,"utc":true},{"year":2021,"month":1,"date":8,"utc":true},{"year":2021,"month":1,"date":15,"utc":true},{"year":2021,"month":1,"date":22,"utc":true},{"year":2021,"month":1,"date":29,"utc":true},{"year":2021,"month":2,"date":5,"utc":true},{"year":2021,"month":2,"date":12,"utc":true},{"year":2021,"month":2,"date":19,"utc":true},{"year":2021,"month":2,"date":26,"utc":true},{"year":2021,"month":3,"date":5,"utc":true},{"year":2021,"month":3,"date":12,"utc":true},{"year":2021,"month":3,"date":19,"utc":true},{"year":2021,"month":3,"date":26,"utc":true},{"year":2021,"month":4,"date":2,"utc":true},{"year":2021,"month":4,"date":9,"utc":true},{"year":2021,"month":4,"date":16,"utc":true},{"year":2021,"month":4,"date":23,"utc":true},{"year":2021,"month":4,"date":30,"utc":true}],
"tickCount": 200, "format": "%-m/%-d", "labelAngle": 270, "labelFontSize": 13, "labelColor": "#4D4D4D", "labelOverlap": false, "labelFlush": false, "grid": true, "gridColor": "#D6D6D6", "gridWidth": 1.5, "ticks": false, "domain": false, "labelPadding": 5, "title": null}},
"y": {"field": "R", "type": "quantitative", "scale": {"domain": [0, 2]},
"axis": {"values": [0,0.1,0.2,0.3,0.4,0.5,0.6,0.7,0.8,0.9,1,1.1,1.2,1.3,1.4,1.5,1.6,1.7,1.8,1.9,2], "tickCount": 100, "labelOverlap": false, "format": ".1f", "grid": true, "gridColor": "#D6D6D6", "gridWidth": 1.5, "ticks": false, "domain": false, "labelPadding": 22, "labelFontSize": 13, "labelColor": "#595959",
"title": ["実","効","再","生","産","数"], "titleAngle": 0, "titleFont": "Noto Sans CJK JP", "titleFontSize": 28, "titleFontWeight": 500, "titleColor": "#000000", "titleLineHeight": 34, "titleX": -82, "titleY": 150, "titleAlign": "center", "titleBaseline": "middle"}},
"color": {"datum": "7日移動平均", "type": "nominal", "scale": {"domain": ["日別", "7日移動平均"], "range": ["#000000", "#E48CC0"]},
"legend": {"orient": "none", "legendX": 479, "legendY": 474, "title": null, "symbolType": "stroke", "symbolSize": 1800, "symbolStrokeWidth": 3, "labelFontSize": 18, "labelColor": "#595959", "rowPadding": 0, "fillColor": "white", "padding": 4, "labelOffset": 8}}
}
},
{
"data": {"name": "daily"},
"mark": {"type": "line", "strokeWidth": 2.5, "clip": true},
"encoding": {
"x": {"field": "date", "type": "temporal", "scale": {"type": "utc", "domain": [{"year":2020,"month":3,"date":6,"utc":true},{"year":2021,"month":4,"date":30,"utc":true}]}},
"y": {"field": "R", "type": "quantitative", "scale": {"domain": [0, 2]}},
"color": {"datum": "日別", "type": "nominal", "scale": {"domain": ["日別", "7日移動平均"], "range": ["#000000", "#E48CC0"]}}
}
},
{
"data": {"values": [{"start": "2020-03-06", "end": "2021-05-08", "R": 1}]},
"mark": {"type": "rule", "color": "#000000", "strokeWidth": 4},
"encoding": {
"x": {"field": "start", "type": "temporal", "scale": {"type": "utc", "domain": [{"year":2020,"month":3,"date":6,"utc":true},{"year":2021,"month":4,"date":30,"utc":true}]}},
"x2": {"field": "end"},
"y": {"field": "R", "type": "quantitative", "scale": {"domain": [0, 2]}}
}
},
{
"data": {"name": "events"},
"mark": {"type": "rule", "strokeWidth": 3.5, "strokeDash": [16, 7]},
"encoding": {
"x": {"field": "date", "type": "temporal", "scale": {"type": "utc", "domain": [{"year":2020,"month":3,"date":6,"utc":true},{"year":2021,"month":4,"date":30,"utc":true}]}},
"y": {"datum": 2, "type": "quantitative", "scale": {"domain": [0, 2]}},
"y2": {"datum": 0},
"stroke": {"field": "kind", "type": "nominal", "scale": {"domain": ["A", "B"], "range": ["#FF0000", "#7030A0"]}, "legend": null}
}
}
]
}
]
}
